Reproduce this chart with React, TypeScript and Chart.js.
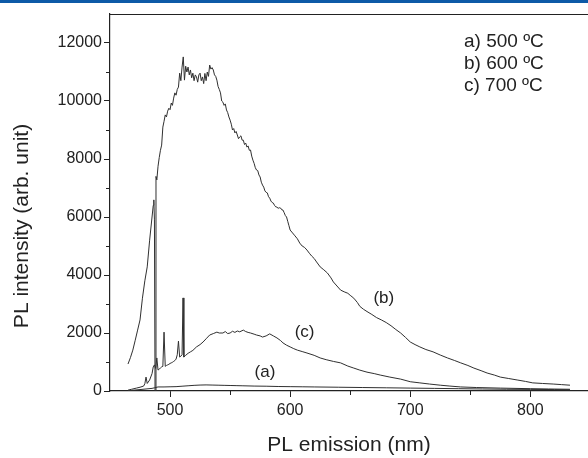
import React, { useEffect, useRef } from 'react';
import { Chart, registerables } from 'chart.js';

Chart.register(...registerables);

// ---- data ----
const wavelengthsA = [465, 470, 475, 480, 485, 487, 490, 495, 500, 505, 510, 515, 520, 525, 530, 535, 540, 545, 550, 555, 560, 570, 580, 590, 600, 610, 620, 640, 660, 680, 700, 720, 740, 760, 780, 800, 820, 833];
const intensityA = [10, 30, 50, 70, 90, 110, 140, 140, 145, 150, 165, 180, 195, 205, 210, 205, 200, 195, 190, 185, 180, 170, 165, 155, 150, 145, 140, 130, 120, 110, 100, 90, 80, 70, 60, 55, 50, 45];

const wavelengthsB = [465, 467, 469, 471, 473, 475, 477, 479, 481, 483, 485, 486, 486.5, 487, 487.5, 488.3, 489, 490, 491, 492, 493, 494, 495, 496, 497, 498, 499, 500, 501, 502, 503, 504, 505, 506, 507, 508, 509, 510, 511, 512, 513, 514, 515, 516, 517, 518, 519, 520, 521, 522, 523, 524, 525, 526, 527, 528, 529, 530, 531, 532, 533, 534, 535, 536, 537, 538, 539, 540, 541, 542, 543, 544, 545, 546, 547, 548, 549, 550, 551, 552, 553, 554, 555, 556, 557, 558, 559, 560, 561, 562, 563, 564, 565, 566, 567, 568, 569, 570, 571, 572, 573, 574, 575, 576, 577, 578, 579, 580, 581, 582, 583, 584, 585, 586, 587, 588, 589, 590, 591, 592, 593, 594, 595, 596, 597, 598, 599, 600, 602, 604, 606, 608, 610, 612, 614, 616, 618, 620, 622, 625, 628, 631, 634, 636, 639, 642, 645, 648, 650, 653, 656, 658, 661, 664, 668, 672, 676, 680, 684, 688, 692, 696, 700, 704, 708, 713, 719, 725, 731, 737, 742, 748, 753, 759, 764, 770, 775, 782, 789, 796, 802, 810, 819, 826, 833];
const intensityB = [930, 1150, 1410, 1750, 2100, 2450, 3200, 3800, 4280, 5200, 6000, 6400, 6590, 5900, 0, 7400, 7280, 7750, 8050, 8300, 8480, 9100, 9300, 9520, 9450, 9650, 9750, 9700, 9930, 9850, 10100, 10280, 10200, 10400, 10480, 10960, 10700, 11170, 11520, 10720, 11200, 11000, 11170, 10900, 11070, 10800, 10960, 10700, 10900, 10830, 10650, 10900, 10960, 10700, 10830, 10600, 10950, 10700, 11000, 10850, 11240, 11100, 11150, 11070, 10900, 10850, 10720, 10500, 10400, 10280, 10000, 9960, 9850, 9900, 9690, 9600, 9450, 9340, 9200, 9000, 9050, 8900, 8950, 8830, 8700, 8760, 8800, 8650, 8650, 8500, 8550, 8410, 8450, 8300, 8310, 8100, 7960, 7850, 7700, 7620, 7600, 7450, 7380, 7200, 7100, 7030, 6900, 6850, 6830, 6700, 6650, 6550, 6500, 6480, 6400, 6350, 6340, 6300, 6320, 6310, 6250, 6240, 6150, 6050, 6000, 5850, 5700, 5550, 5450, 5350, 5250, 5100, 5000, 4950, 4860, 4750, 4650, 4570, 4450, 4280, 4180, 4070, 3900, 3760, 3620, 3480, 3420, 3370, 3300, 3200, 3050, 2920, 2820, 2740, 2640, 2530, 2450, 2360, 2250, 2120, 2000, 1850, 1690, 1600, 1520, 1430, 1350, 1240, 1140, 1050, 970, 880, 790, 700, 620, 550, 480, 430, 380, 330, 280, 260, 240, 220, 200];

const wavelengthsC = [465, 468, 472, 475, 478, 479, 480, 481, 483, 485, 486, 487, 488, 489, 490, 491, 492, 493, 494, 495, 496, 497, 498, 499, 500, 501, 502, 503, 504, 505, 506, 507, 508, 509, 510, 510.8, 511.5, 513, 515, 517, 519, 522, 525, 527.5, 530, 533, 536, 539, 541, 544, 546, 548, 550, 552, 554, 556, 558, 561, 563, 565, 567, 570, 572, 575, 577, 580, 583, 586, 589, 592, 594, 597, 600, 603, 606, 610, 614, 620, 625, 630, 636, 642, 648, 653, 658, 664, 670, 675, 683, 692, 700, 708, 716, 725, 733, 742, 755, 775, 800, 815, 833];
const intensityC = [30, 60, 100, 130, 170, 250, 480, 260, 380, 600, 830, 900, 780, 1140, 720, 760, 790, 830, 850, 2030, 850, 880, 900, 920, 950, 970, 990, 1020, 1050, 1100, 1250, 1720, 1170, 1200, 1250, 3210, 1170, 1230, 1300, 1350, 1400, 1520, 1600, 1690, 1800, 1930, 1980, 2030, 2000, 2000, 2050, 1980, 2000, 2060, 2020, 2070, 2040, 2100, 2050, 2020, 2000, 1960, 1930, 1900, 1860, 1900, 1970, 1900, 1830, 1740, 1660, 1580, 1520, 1460, 1410, 1360, 1310, 1230, 1140, 1080, 1020, 970, 860, 790, 720, 650, 600, 550, 480, 410, 320, 280, 240, 200, 170, 140, 120, 100, 80, 70, 60];

const xMajorTicks = [500, 600, 700, 800];
const xMinorTicks = [550, 650, 750];
const yMajorTicks = [0, 2000, 4000, 6000, 8000, 10000, 12000];
const yMinorTicks = [1000, 3000, 5000, 7000, 9000, 11000];

const legendLines = ['a) 500 \u00baC', 'b) 600 \u00baC', 'c) 700 \u00baC'];
const curveLabels = ['(a)', '(b)', '(c)'];
const curveLabelX = [579, 678, 612];
const curveLabelY = [650, 3200, 2030];

const xTitle = 'PL emission (nm)';
const yTitle = 'PL intensity (arb. unit)';

const FONT = '"Liberation Sans", Arial, sans-serif';
const INK = '#222222';

function toPoints(xs: number[], ys: number[]) {
  return xs.map((x, i) => ({ x, y: ys[i] }));
}

const decorPlugin = {
  id: 'decor',
  beforeDraw(chart: any) {
    const ctx = chart.ctx;
    ctx.save();
    ctx.fillStyle = '#ffffff';
    ctx.fillRect(0, 0, chart.width, chart.height);
    ctx.fillStyle = '#0d5aa7';
    ctx.fillRect(0, 0, chart.width, 3);
    ctx.restore();
  },
  afterDraw(chart: any) {
    const { ctx, chartArea } = chart;
    const xs = chart.scales.x;
    const ys = chart.scales.y;
    ctx.save();
    ctx.strokeStyle = INK;
    ctx.lineWidth = 1.2;
    ctx.beginPath();
    ctx.moveTo(chartArea.left, chartArea.top + 0.5);
    ctx.lineTo(chartArea.right, chartArea.top + 0.5);
    ctx.stroke();
    ctx.lineWidth = 1;
    xMinorTicks.forEach((v) => {
      const px = Math.round(xs.getPixelForValue(v)) + 0.5;
      ctx.beginPath();
      ctx.moveTo(px, chartArea.bottom);
      ctx.lineTo(px, chartArea.bottom + 4);
      ctx.stroke();
    });
    yMinorTicks.forEach((v) => {
      const py = Math.round(ys.getPixelForValue(v)) + 0.5;
      ctx.beginPath();
      ctx.moveTo(chartArea.left, py);
      ctx.lineTo(chartArea.left - 4, py);
      ctx.stroke();
    });
    ctx.fillStyle = INK;
    ctx.font = `21px ${FONT}`;
    ctx.textAlign = 'center';
    ctx.textBaseline = 'middle';
    ctx.save();
    ctx.translate(22, 226);
    ctx.rotate(-Math.PI / 2);
    ctx.fillText(yTitle, 0, 0);
    ctx.restore();
    ctx.font = `19px ${FONT}`;
    ctx.textAlign = 'left';
    legendLines.forEach((t, i) => {
      ctx.fillText(t, chartArea.right - 124, chartArea.top + 28 + i * 22);
    });
    ctx.font = `17px ${FONT}`;
    ctx.textAlign = 'center';
    curveLabels.forEach((t, i) => {
      ctx.fillText(t, xs.getPixelForValue(curveLabelX[i]), ys.getPixelForValue(curveLabelY[i]));
    });
    ctx.restore();
  },
};

export default function App() {
  const ref = useRef<HTMLCanvasElement | null>(null);
  useEffect(() => {
    document.body.style.margin = '0';
    const canvas = ref.current;
    if (!canvas) return;
    const lineStyle = { borderColor: '#303030', borderWidth: 1, pointRadius: 0, tension: 0, fill: false };
    const chart = new Chart(canvas, {
      type: 'line',
      data: {
        datasets: [
          { label: 'a) 500 ºC', data: toPoints(wavelengthsA, intensityA), ...lineStyle },
          { label: 'b) 600 ºC', data: toPoints(wavelengthsB, intensityB), ...lineStyle },
          { label: 'c) 700 ºC', data: toPoints(wavelengthsC, intensityC), ...lineStyle },
        ],
      },
      options: {
        animation: false,
        responsive: false,
        devicePixelRatio: 1,
        layout: { padding: { top: 14, right: 0, left: 0, bottom: 0 } },
        plugins: { legend: { display: false }, tooltip: { enabled: false } },
        scales: {
          x: {
            type: 'linear',
            min: 450,
            max: 848,
            afterFit: (s: any) => { s.height = 67; },
            afterBuildTicks: (s: any) => { s.ticks = xMajorTicks.map((v) => ({ value: v })); },
            grid: { drawOnChartArea: false, tickLength: 6, color: INK, tickColor: INK },
            border: { color: INK, width: 1.2 },
            ticks: { font: { family: FONT, size: 16 }, color: INK, padding: 4, maxRotation: 0, callback: (v: any) => String(v) },
            title: { display: true, text: xTitle, font: { family: FONT, size: 21 }, color: INK, padding: { top: 0, bottom: 0 } },
          },
          y: {
            type: 'linear',
            min: 0,
            max: 13000,
            afterFit: (s: any) => { s.width = 110; },
            afterBuildTicks: (s: any) => { s.ticks = yMajorTicks.map((v) => ({ value: v })); },
            grid: { drawOnChartArea: false, tickLength: 6, color: INK, tickColor: INK },
            border: { color: INK, width: 1.2 },
            ticks: { font: { family: FONT, size: 16 }, color: INK, padding: 2, callback: (v: any) => String(v) },
            title: { display: false },
          },
        },
      },
      plugins: [decorPlugin],
    });
    return () => chart.destroy();
  }, []);
  return (
    <div style={{ width: 588, height: 458 }}>
      <canvas ref={ref} width={588} height={458} style={{ display: 'block' }} />
    </div>
  );
}
